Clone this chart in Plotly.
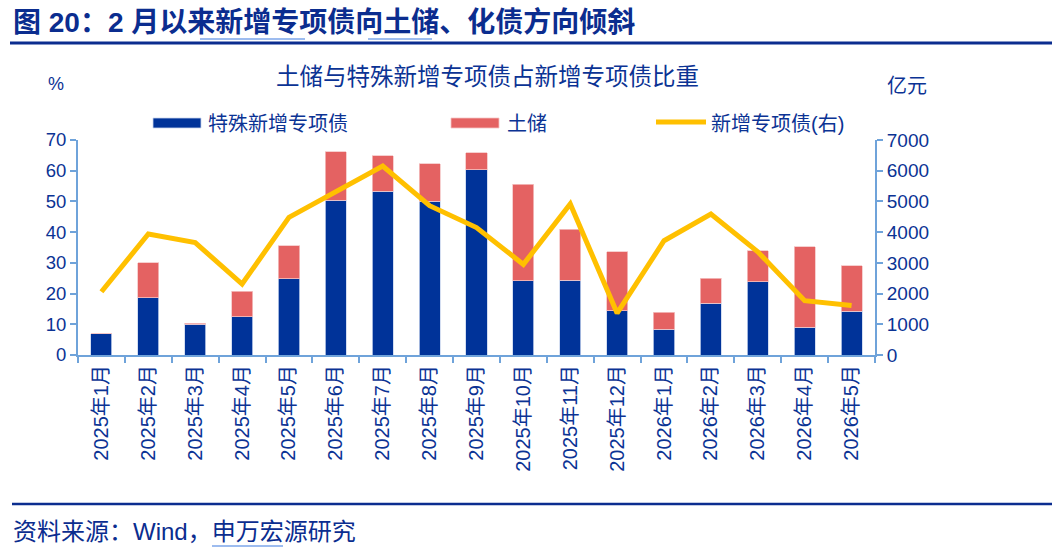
import plotly.graph_objects as go

categories = ["2025年1月", "2025年2月", "2025年3月", "2025年4月", "2025年5月", "2025年6月",
              "2025年7月", "2025年8月", "2025年9月", "2025年10月", "2025年11月", "2025年12月",
              "2026年1月", "2026年2月", "2026年3月", "2026年4月", "2026年5月"]
special_pct = [7.0, 18.7, 10.0, 12.4, 24.9, 50.4, 53.3, 50.0, 60.3, 24.2, 24.3, 14.4, 8.4, 16.9, 23.9, 9.0, 14.2]
land_pct = [0.0, 11.3, 0.3, 8.4, 10.6, 15.8, 11.5, 12.3, 5.5, 31.4, 16.7, 19.2, 5.5, 8.1, 10.1, 26.3, 14.9]
new_special_bond = [2060, 3940, 3660, 2310, 4480, 5320, 6150, 4860, 4150, 2950, 4920, 1360, 3720, 4590, 3360, 1770, 1610]

W, H = 1060, 550
L, R, T, B = 78, 875, 140, 355
TXT = "#0B3394"
AX = "#6FA3DA"
BLUE = "#003399"
RED = "#E46262"
YEL = "#FFC000"
FONT = "Liberation Sans, Noto Sans CJK SC, sans-serif"


def px(x):
    return (x - L) / (R - L)


def py(y):
    return (B - y) / (B - T)


fig = go.Figure()
fig.add_trace(go.Bar(x=categories, y=special_pct, name="特殊新增专项债", marker_color=BLUE,
                     marker_line=dict(color="#C9D6EE", width=0.8), width=0.45))
fig.add_trace(go.Bar(x=categories, y=land_pct, name="土储", marker_color=RED,
                     marker_line=dict(color="#F4C4C4", width=0.8), width=0.45))
fig.add_trace(go.Scatter(x=categories, y=new_special_bond, name="新增专项债(右)", yaxis="y2",
                         mode="lines", line=dict(color=YEL, width=5)))

axis_common = dict(showline=True, linecolor=AX, linewidth=2, ticks="outside", tickcolor=AX,
                   tickwidth=2, showgrid=False, zeroline=False)

fig.update_layout(
    width=W, height=H,
    margin=dict(l=L, r=W - R, t=T, b=H - B),
    paper_bgcolor="white", plot_bgcolor="white",
    barmode="stack", showlegend=False,
    font=dict(family=FONT, color=TXT),
    xaxis=dict(type="category", tickangle=-90, tickson="boundaries", ticklen=6,
               tickfont=dict(family=FONT, size=20, color=TXT), **axis_common),
    yaxis=dict(range=[0, 70], dtick=10, ticklen=6,
               tickfont=dict(family=FONT, size=18.5, color=TXT), **axis_common),
    yaxis2=dict(range=[0, 7000], dtick=1000, ticklen=6, overlaying="y", side="right",
                tickfont=dict(family=FONT, size=19, color=TXT), **axis_common),
)

shapes = []
annotations = []

# Header line and footer line
shapes.append(dict(type="line", xref="paper", yref="paper", x0=px(10), x1=px(1052), y0=py(43), y1=py(43),
                   line=dict(color="#0B2D8F", width=3)))
shapes.append(dict(type="line", xref="paper", yref="paper", x0=px(12), x1=px(1052), y0=py(504), y1=py(504),
                   line=dict(color="#0B2D8F", width=2.5)))
# underlines (link-like marks in original)
for x0, x1, y in [(200, 305, 39), (368, 432, 39), (212, 283, 546)]:
    shapes.append(dict(type="line", xref="paper", yref="paper", x0=px(x0), x1=px(x1), y0=py(y), y1=py(y),
                       line=dict(color="#3D7BE0", width=1.2)))

# Legend
shapes.append(dict(type="rect", xref="paper", yref="paper", x0=px(153), x1=px(201), y0=py(118), y1=py(128),
                   fillcolor=BLUE, line=dict(color="#C9D6EE", width=0.8)))
shapes.append(dict(type="rect", xref="paper", yref="paper", x0=px(451), x1=px(499), y0=py(118), y1=py(128),
                   fillcolor=RED, line=dict(color="#F4C4C4", width=0.8)))
shapes.append(dict(type="line", xref="paper", yref="paper", x0=px(656), x1=px(706), y0=py(122), y1=py(122),
                   line=dict(color=YEL, width=5)))
for x, text in [(206, "特殊新增专项债"), (505, "土储"), (709, "新增专项债(右)")]:
    annotations.append(dict(xref="paper", yref="paper", x=px(x), y=py(124), text=text, showarrow=False,
                            xanchor="left", yanchor="middle", font=dict(family=FONT, size=20, color=TXT)))

# Header title
annotations.append(dict(xref="paper", yref="paper", x=px(11), y=py(22),
                        text="<b>图 20：2 月以来新增专项债向土储、化债方向倾斜</b>", showarrow=False,
                        xanchor="left", yanchor="middle",
                        font=dict(family="Liberation Sans, Noto Sans CJK SC", size=28, color="#0B2D8F")))
# Chart title
annotations.append(dict(xref="paper", yref="paper", x=px(487), y=py(77),
                        text="土储与特殊新增专项债占新增专项债比重", showarrow=False,
                        xanchor="center", yanchor="middle", font=dict(family=FONT, size=23.5, color=TXT)))
# Axis units
annotations.append(dict(xref="paper", yref="paper", x=px(56), y=py(84), text="%", showarrow=False,
                        xanchor="center", yanchor="middle", font=dict(family=FONT, size=18, color=TXT)))
annotations.append(dict(xref="paper", yref="paper", x=px(907), y=py(86), text="亿元", showarrow=False,
                        xanchor="center", yanchor="middle", font=dict(family=FONT, size=20, color=TXT)))
# Source
annotations.append(dict(xref="paper", yref="paper", x=px(11), y=py(531), text="资料来源：Wind，申万宏源研究",
                        showarrow=False, xanchor="left", yanchor="middle",
                        font=dict(family=FONT, size=24, color="#0B2D8F")))

fig.update_layout(shapes=shapes, annotations=annotations)
fig.write_html("out.html")
